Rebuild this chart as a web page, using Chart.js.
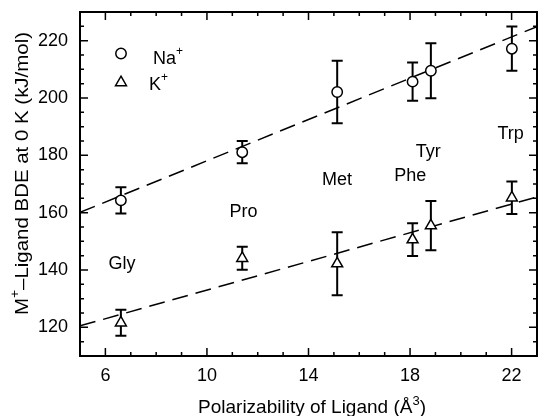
<!DOCTYPE html>
<html>
<head>
<meta charset="utf-8">
<script src="https://cdn.jsdelivr.net/npm/chart.js@4.4.0/dist/chart.umd.min.js"></script>
<style>
  html, body { margin: 0; padding: 0; background: #fff; }
  canvas { display: block; }
</style>
</head>
<body>
<canvas id="bdeChart" width="538" height="416"></canvas>
<script>
// Values
const ligands = ["Gly", "Pro", "Met", "Phe", "Tyr", "Trp"];
const polarizability = [6.61, 11.39, 15.13, 18.1, 18.82, 22.01];
const naBDE = [164.3, 181.1, 202.1, 205.7, 209.5, 217.2];
const naErr = [4.6, 3.9, 10.9, 6.7, 9.6, 7.7];
const kBDE = [121.6, 144.1, 142.2, 150.6, 155.5, 165.2];
const kErr = [4.5, 4.0, 11.0, 5.7, 8.6, 5.7];

// dashed linear fits, evaluated at the axis ends
const fitX = [5, 23];
const naFit = [160.1, 224.9];
const kFit = [120.5, 165.5];

// where the ligand names sit (data units)
const labelX = [6.65, 11.44, 15.12, 18.01, 18.72, 21.96];
const labelY = [142.6, 160.9, 171.8, 173.3, 181.6, 188.1];

const xTicks = [6, 10, 14, 18, 22];
const yTicks = [120, 140, 160, 180, 200, 220];

const FONT = "'Liberation Sans', Arial, Helvetica, sans-serif";

function toPoints(xs, ys) {
  return xs.map((x, i) => ({ x: x, y: ys[i] }));
}

// draw text made of pieces, some raised (superscripts)
function richWidth(ctx, parts) {
  let w = 0;
  parts.forEach(p => {
    ctx.font = p.size + "px " + FONT;
    w += ctx.measureText(p.text).width;
  });
  return w;
}

function drawRich(ctx, parts, x, y) {
  let cx = x;
  parts.forEach(p => {
    ctx.font = p.size + "px " + FONT;
    ctx.fillText(p.text, cx, y - (p.rise || 0));
    cx += ctx.measureText(p.text).width;
  });
}

// no automatic label padding, the plot box is fixed
function fixBox(s) {
  s.paddingLeft = 0;
  s.paddingRight = 0;
  s.paddingTop = 0;
  s.paddingBottom = 0;
}

// error bars go under each marker set
const errorBars = {
  id: "errorBars",
  beforeDatasetDraw(chart, args) {
    const ds = chart.data.datasets[args.index];
    if (!ds.errors) return;
    const { ctx, scales: { x, y } } = chart;
    ctx.save();
    ctx.strokeStyle = "#000";
    ctx.lineWidth = 2;
    ctx.beginPath();
    ds.data.forEach((pt, i) => {
      const px = x.getPixelForValue(pt.x);
      const top = y.getPixelForValue(pt.y + ds.errors[i]);
      const bot = y.getPixelForValue(pt.y - ds.errors[i]);
      ctx.moveTo(px, top); ctx.lineTo(px, bot);
      ctx.moveTo(px - 5.5, top); ctx.lineTo(px + 5.5, top);
      ctx.moveTo(px - 5.5, bot); ctx.lineTo(px + 5.5, bot);
    });
    ctx.stroke();
    ctx.restore();
  }
};

// frame, inward ticks, labels, legend, axis titles
const decorations = {
  id: "decorations",
  afterDraw(chart) {
    const { ctx, chartArea: a, scales: { x, y } } = chart;
    ctx.save();
    ctx.strokeStyle = "#000";
    ctx.fillStyle = "#000";

    // ticks on all four sides
    ctx.lineWidth = 1.5;
    ctx.beginPath();
    for (let v = Math.ceil(x.min); v <= x.max; v += 1) {
      const px = x.getPixelForValue(v);
      const len = xTicks.includes(v) ? 8 : 4;
      ctx.moveTo(px, a.bottom); ctx.lineTo(px, a.bottom - len);
      ctx.moveTo(px, a.top); ctx.lineTo(px, a.top + len);
    }
    for (let v = y.min; v <= y.max; v += 5) {
      const py = y.getPixelForValue(v);
      const len = yTicks.includes(v) ? 8 : 4;
      ctx.moveTo(a.left, py); ctx.lineTo(a.left + len, py);
      ctx.moveTo(a.right, py); ctx.lineTo(a.right - len, py);
    }
    ctx.stroke();

    ctx.lineWidth = 2;
    ctx.strokeRect(a.left, a.top, a.width, a.height);

    // ligand names
    ctx.font = "18px " + FONT;
    ctx.textAlign = "center";
    ctx.textBaseline = "alphabetic";
    ligands.forEach((name, i) => {
      ctx.fillText(name, x.getPixelForValue(labelX[i]), y.getPixelForValue(labelY[i]) + 6.5);
    });

    // legend box in the upper left
    ctx.textAlign = "left";
    ctx.lineWidth = 1.5;
    const lx = a.left + 41;
    ctx.fillStyle = "#fff";
    Chart.helpers.drawPoint(ctx, { pointStyle: "circle", radius: 5.2, rotation: 0, borderWidth: 1.5 }, lx, a.top + 41.5);
    Chart.helpers.drawPoint(ctx, { pointStyle: "triangle", radius: 6.3, rotation: 0, borderWidth: 1.5 }, lx, a.top + 70.5);
    ctx.fillStyle = "#000";
    drawRich(ctx, [{ text: "Na", size: 18 }, { text: "+", size: 12, rise: 9 }], a.left + 73, a.top + 51.5);
    drawRich(ctx, [{ text: "K", size: 18 }, { text: "+", size: 12, rise: 9 }], a.left + 69, a.top + 78);

    // x title
    const xParts = [
      { text: "Polarizability of Ligand (\u00C5", size: 19 },
      { text: "3", size: 13, rise: 8 },
      { text: ")", size: 19 }
    ];
    const xw = richWidth(ctx, xParts);
    drawRich(ctx, xParts, 312 - xw / 2, 413);

    // y title, rotated and stretched to the original length
    const yParts = [
      { text: "M", size: 18.5 },
      { text: "+", size: 12.5, rise: 9 },
      { text: "\u2013Ligand BDE at 0 K (kJ/mol)", size: 18.5 }
    ];
    const yw = richWidth(ctx, yParts);
    ctx.translate(28, 173.5);
    ctx.rotate(-Math.PI / 2);
    ctx.scale(283 / yw, 1);
    drawRich(ctx, yParts, -yw / 2, 0);

    ctx.restore();
  }
};

const chart = new Chart(document.getElementById("bdeChart"), {
  type: "scatter",
  data: {
    datasets: [
      {
        type: "line",
        data: toPoints(fitX, naFit),
        borderColor: "#000",
        borderWidth: 1.5,
        borderDash: [16, 8],
        pointRadius: 0,
        fill: false,
        order: 3
      },
      {
        type: "line",
        data: toPoints(fitX, kFit),
        borderColor: "#000",
        borderWidth: 1.5,
        borderDash: [16, 8],
        pointRadius: 0,
        fill: false,
        order: 3
      },
      {
        label: "Na+",
        data: toPoints(polarizability, naBDE),
        errors: naErr,
        pointStyle: "circle",
        pointRadius: 5.2,
        pointBorderWidth: 1.5,
        pointBackgroundColor: "#fff",
        pointBorderColor: "#000",
        order: 1
      },
      {
        label: "K+",
        data: toPoints(polarizability, kBDE),
        errors: kErr,
        pointStyle: "triangle",
        pointRadius: 6.3,
        pointBorderWidth: 1.5,
        pointBackgroundColor: "#fff",
        pointBorderColor: "#000",
        order: 1
      }
    ]
  },
  options: {
    responsive: false,
    animation: false,
    devicePixelRatio: 1,
    layout: { autoPadding: false, padding: { top: 12, right: 1, left: 0, bottom: 0 } },
    plugins: {
      legend: { display: false },
      tooltip: { enabled: false }
    },
    scales: {
      x: {
        type: "linear",
        min: 5,
        max: 23,
        afterBuildTicks: s => { s.ticks = xTicks.map(v => ({ value: v })); },
        afterFit: s => { s.height = 60; fixBox(s); },
        grid: { display: false, drawTicks: false },
        border: { display: false },
        ticks: { color: "#000", font: { family: FONT, size: 18 }, padding: 9, maxRotation: 0 }
      },
      y: {
        type: "linear",
        min: 110,
        max: 230,
        afterBuildTicks: s => { s.ticks = yTicks.map(v => ({ value: v })); },
        afterFit: s => { s.width = 80; fixBox(s); },
        grid: { display: false, drawTicks: false },
        border: { display: false },
        ticks: { color: "#000", font: { family: FONT, size: 18 }, padding: 12 }
      }
    }
  },
  plugins: [errorBars, decorations]
});
</script>
</body>
</html>
